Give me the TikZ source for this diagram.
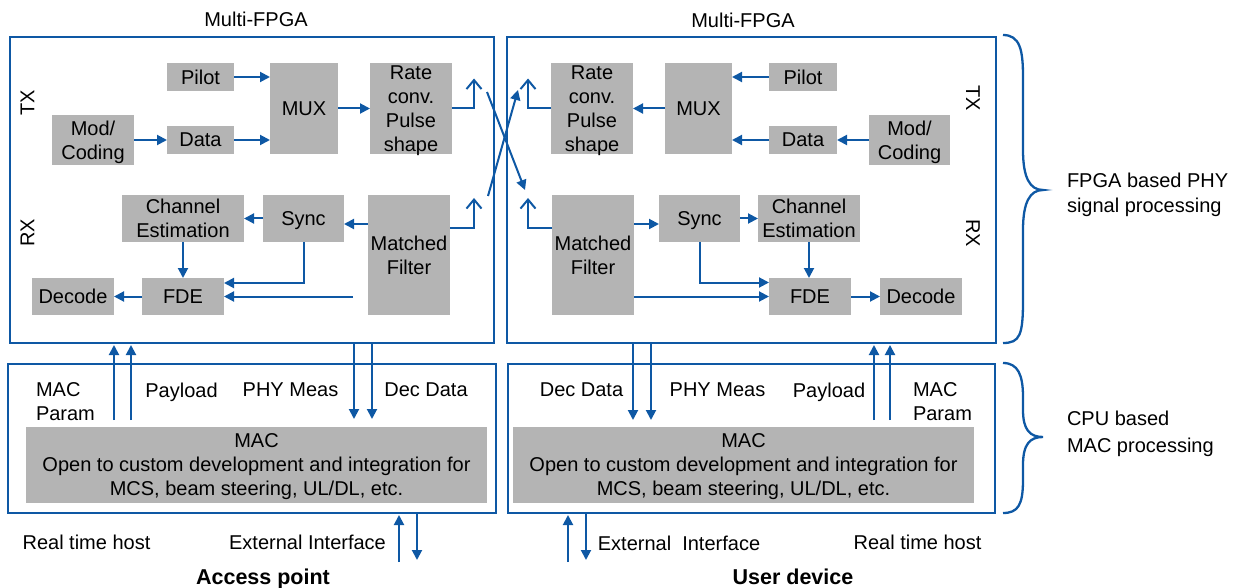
\documentclass[tikz,border=0pt]{standalone}
\usepackage{fontspec}
\setmainfont{Liberation Sans}
\usetikzlibrary{arrows.meta,calc}
\definecolor{lnblue}{RGB}{14,88,164}
\definecolor{blkgray}{RGB}{180,180,180}
\begin{document}
\begin{tikzpicture}[x=1pt,y=-1pt,
  every node/.style={font=\fontsize{20}{24}\selectfont, text depth=0pt, inner sep=0pt, outer sep=0pt},
  blk/.style={fill=blkgray, align=center},
  fpgabox/.style={draw=lnblue, line width=2.8pt},
  arr/.style={draw=lnblue, line width=2pt, -{Triangle[length=10pt,width=10pt]}},
  ant/.style={draw=lnblue, line width=2pt, -{Straight Barb[length=9pt,width=15pt]}},
  lbl/.style={align=center},
  bracestyle/.style={draw=lnblue, line width=2.3pt},
]
\useasboundingbox (0,0) rectangle (1253,588);

% frames
\node[fpgabox, minimum width=484pt, minimum height=306pt] (fpgaL) at (252,190) {};
\node[fpgabox, minimum width=489pt, minimum height=306pt] (fpgaR) at (751.5,190) {};
\node[fpgabox, minimum width=488pt, minimum height=149pt] (macL) at (252,438.5) {};
\node[fpgabox, minimum width=487pt, minimum height=149pt] (macR) at (751.5,438.5) {};

\node[lbl] (mfpgaL) at (256,19) {Multi-FPGA};
\node[lbl] (mfpgaR) at (743,20) {Multi-FPGA};

% left blocks
\node[blk, minimum width=67pt, minimum height=28pt] (pilotL) at (200.5,77) {Pilot};
\node[blk, minimum width=68pt, minimum height=91pt] (muxL) at (304,108.5) {MUX};
\node[blk, minimum width=82pt, minimum height=91pt] (rateL) at (411,108.5) {Rate\\conv.\\Pulse\\shape};
\node[blk, minimum width=82pt, minimum height=50pt] (modL) at (93,140) {Mod/\\Coding};
\node[blk, minimum width=67pt, minimum height=28pt] (dataL) at (200.5,140) {Data};
\node[blk, minimum width=122pt, minimum height=47pt] (chL) at (183,218.5) {Channel\\Estimation};
\node[blk, minimum width=81pt, minimum height=47pt] (syncL) at (303.5,218.5) {Sync};
\node[blk, minimum width=82pt, minimum height=120pt] (mfL) at (409,255) {Matched\\Filter};
\node[blk, minimum width=82pt, minimum height=37pt] (decL) at (73,296.5) {Decode};
\node[blk, minimum width=82pt, minimum height=37pt] (fdeL) at (183,296.5) {FDE};
\node[lbl, rotate=90] (txL) at (27.5,103) {TX};
\node[lbl, rotate=90] (rxL) at (27.5,233) {RX};

% right blocks
\node[blk, minimum width=82pt, minimum height=91pt] (rateR) at (592,108.5) {Rate\\conv.\\Pulse\\shape};
\node[blk, minimum width=67pt, minimum height=91pt] (muxR) at (698.5,108.5) {MUX};
\node[blk, minimum width=68pt, minimum height=28pt] (pilotR) at (803,77) {Pilot};
\node[blk, minimum width=68pt, minimum height=28pt] (dataR) at (803,140) {Data};
\node[blk, minimum width=81pt, minimum height=50pt] (modR) at (909.5,140) {Mod/\\Coding};
\node[blk, minimum width=82pt, minimum height=120pt] (mfR) at (593,255) {Matched\\Filter};
\node[blk, minimum width=81pt, minimum height=47pt] (syncR) at (699.5,218.5) {Sync};
\node[blk, minimum width=102pt, minimum height=47pt] (chR) at (809,218.5) {Channel\\Estimation};
\node[blk, minimum width=82pt, minimum height=37pt] (fdeR) at (810,296.5) {FDE};
\node[blk, minimum width=82pt, minimum height=37pt] (decR) at (921,296.5) {Decode};
\node[lbl, rotate=-90] (txR) at (973,98) {TX};
\node[lbl, rotate=-90] (rxR) at (973,233) {RX};

% left arrows
\draw[arr] (pilotL.east) -- (pilotL.east -| muxL.west);
\draw[arr] (dataL.east) -- (dataL.east -| muxL.west);
\draw[arr] (modL.east) -- (dataL.west);
\draw[arr] (muxL.east) -- (rateL.west);
\draw[arr] ($(mfL.west |- syncL.east)+(0,5.5)$) -- ($(syncL.east)+(0,5.5)$);
\draw[arr] (syncL.west) -- (chL.east);
\draw[arr] (chL.south) -- (fdeL.north);
\draw[arr] (syncL.south) |- ($(fdeL.east)+(0,-13.5)$);
\draw[arr] ($(mfL.west |- fdeL.east)+(-15,0)$) -- (fdeL.east);
\draw[arr] (fdeL.west) -- (decL.east);
\draw[ant] (rateL.east) -| ($(rateL.east)+(22,-30)$);
\draw[ant] ($(mfL.east)+(0,-27)$) -| ($(mfL.east)+(24,-57)$);

% right arrows
\draw[arr] (pilotR.west) -- (pilotR.west -| muxR.east);
\draw[arr] (dataR.west) -- (dataR.west -| muxR.east);
\draw[arr] (modR.west) -- (dataR.east);
\draw[arr] (muxR.west) -- (rateR.east);
\draw[arr] ($(mfR.east |- syncR.west)+(0,5.5)$) -- ($(syncR.west)+(0,5.5)$);
\draw[arr] (syncR.east) -- (chR.west);
\draw[arr] (chR.south) -- (chR.south |- fdeR.north);
\draw[arr] (syncR.south) |- ($(fdeR.west)+(0,-14)$);
\draw[arr] (mfR.east |- fdeR.west) -- (fdeR.west);
\draw[arr] (fdeR.east) -- (decR.west);
\draw[ant] (rateR.west) -| ($(rateR.west)+(-23,-30)$);
\draw[ant] ($(mfR.west)+(0,-27)$) -| ($(mfR.west)+(-24,-57)$);

% crossing links
\coordinate (xa) at (487,92);
\coordinate (xb) at (525,190);
\coordinate (ya) at (488,196);
\coordinate (yb) at (518,90);
\draw[arr] (xa) -- (xb);
\draw[arr] (ya) -- (yb);

% MAC blocks
\node[blk, minimum width=461pt, minimum height=76pt] (macgL) at (256.5,465) {MAC\\Open to custom development and integration for\\MCS, beam steering, UL/DL, etc.};
\node[blk, minimum width=461pt, minimum height=76pt] (macgR) at (743.5,465) {MAC\\Open to custom development and integration for\\MCS, beam steering, UL/DL, etc.};

% MAC <-> FPGA arrows left
\draw[arr] ($(macgL.north)+(-142.5,-7)$) -- ($(fpgaL.south)+(-138,2)$);
\draw[arr] ($(macgL.north)+(-125.5,-7)$) -- ($(fpgaL.south)+(-121,2)$);
\draw[arr] ($(fpgaL.south)+(102,0)$) -- ($(macgL.north)+(97.5,-8)$);
\draw[arr] ($(fpgaL.south)+(120,0)$) -- ($(macgL.north)+(115.5,-8)$);
% right
\draw[arr] ($(fpgaR.south)+(-118.5,0)$) -- ($(macgR.north)+(-110.5,-7)$);
\draw[arr] ($(fpgaR.south)+(-100.5,0)$) -- ($(macgR.north)+(-92.5,-7)$);
\draw[arr] ($(macgR.north)+(130.5,-7)$) -- ($(fpgaR.south)+(122.5,2)$);
\draw[arr] ($(macgR.north)+(146.5,-7)$) -- ($(fpgaR.south)+(138.5,2)$);

% external interface arrows
\draw[arr] ($(macL.south)+(147,49)$) -- ($(macL.south)+(147,2)$);
\draw[arr] ($(macL.south)+(165,0)$) -- ($(macL.south)+(165,47)$);
\draw[arr] ($(macR.south)+(-183.5,49)$) -- ($(macR.south)+(-183.5,2)$);
\draw[arr] ($(macR.south)+(-165.5,0)$) -- ($(macR.south)+(-165.5,47)$);

% labels in MAC boxes
\node[align=left, anchor=west] (mpL) at (36,401.5) {MAC\\Param};
\node[lbl] (plL) at (181.5,390) {Payload};
\node[lbl] (phL) at (290.5,390) {PHY Meas};
\node[lbl] (ddL) at (426,390) {Dec Data};
\node[lbl] (ddR) at (581.5,390) {Dec Data};
\node[lbl] (phR) at (717.5,390) {PHY Meas};
\node[lbl] (plR) at (829,390) {Payload};
\node[align=left, anchor=west] (mpR) at (913,401.5) {MAC\\Param};

% bottom labels
\node[lbl] (rthL) at (86.5,542) {Real time host};
\node[lbl] (extL) at (307.5,542) {External Interface};
\node[lbl] (extR) at (679,543) {External\ \ Interface};
\node[lbl] (rthR) at (917.5,542) {Real time host};
\node[lbl, font=\fontsize{21.5}{25}\selectfont\bfseries] (apL) at (263,577) {Access point};
\node[lbl, font=\fontsize{21.5}{25}\selectfont\bfseries] (udR) at (793,577) {User device};

% braces
\draw[bracestyle] (1003,35) .. controls (1020,35) and (1023,50) .. (1023,77) -- (1023,150) .. controls (1023,178) and (1030,190) .. (1043,190) .. controls (1030,190) and (1023,202) .. (1023,230) -- (1023,300) .. controls (1023,335) and (1020,343) .. (1003,343);
\draw[bracestyle] (1003,363) .. controls (1018,363) and (1023,375) .. (1023,397) -- (1023,410) .. controls (1023,430) and (1030,437) .. (1043,437) .. controls (1030,437) and (1023,444) .. (1023,465) -- (1023,480) .. controls (1023,505) and (1018,513) .. (1003,513);
\node[align=left, anchor=west] (phyL) at (1067,192.5) {FPGA based PHY\\[1pt]signal processing};
\node[align=left, anchor=west] (cpuL) at (1067,431.5) {CPU based\\[3pt]MAC processing};
\end{tikzpicture}
\end{document}
